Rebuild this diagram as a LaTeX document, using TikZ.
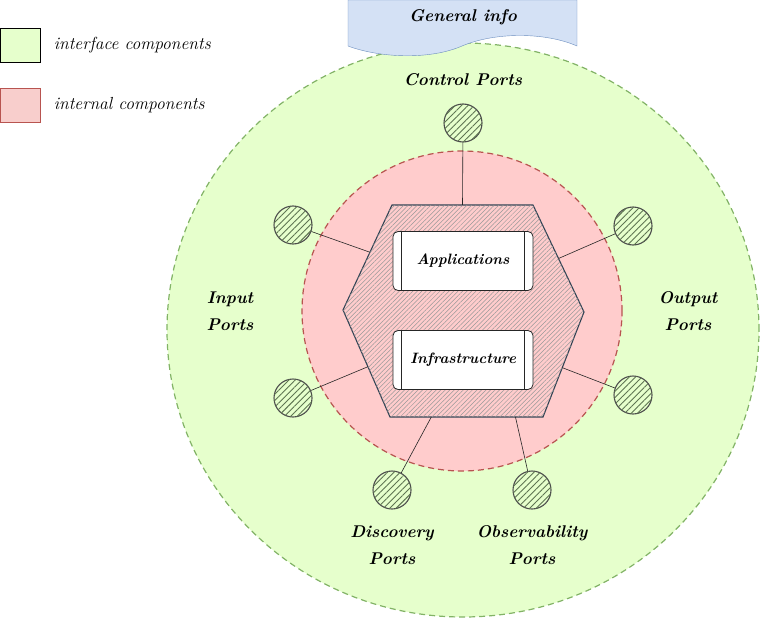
\documentclass[tikz,border=0pt]{standalone}
\usetikzlibrary{positioning}
\usetikzlibrary{patterns.meta}
\usetikzlibrary{calc}
\usepackage{xcolor}

\definecolor{ifacefill}{HTML}{E6FFCC}
\definecolor{ifaceline}{HTML}{82B366}
\definecolor{intfill}{HTML}{FFCCCC}
\definecolor{intline}{HTML}{B85450}
\definecolor{legint}{HTML}{F8CECC}
\definecolor{infofill}{HTML}{D4E1F5}
\definecolor{infoline}{HTML}{6C8EBF}
\definecolor{hexline}{HTML}{314354}
\definecolor{portline}{HTML}{5E7552}

\begin{document}
\begin{tikzpicture}[
        x=1pt, y=-1pt,
        lbl/.style={font=\fontsize{17}{21}\selectfont\bfseries\itshape, align=center, inner sep=1pt},
        port/.style={circle, draw=black!70, line width=1.1pt, minimum size=38pt, inner sep=0pt, fill=ifacefill,
            postaction={pattern={Lines[angle=45, distance=4.5pt, line width=0.9pt]}, pattern color=portline}},
        procbox/.style={rectangle, rounded corners=5pt, draw=black!85, thick, fill=white,
            minimum width=140pt, minimum height=59pt, font=\fontsize{15}{18}\selectfont\bfseries\itshape},
        legbox/.style={rectangle, minimum width=40pt, minimum height=34pt, inner sep=0pt},
        legtxt/.style={font=\fontsize{17.5}{20}\selectfont\itshape, inner sep=0pt},
        ring/.style={line width=1.2pt, dash pattern=on 6pt off 4pt},
        link/.style={draw=black!85, semithick}
    ]
        \useasboundingbox (0,0) rectangle (760,618);

        % rings
        \draw[ring, ifaceline, fill=ifacefill] (463,330) ellipse [x radius=296pt, y radius=287pt];
        \draw[ring, intline, fill=intfill] (462,311) circle [radius=160pt];

        % general info tab
        \draw[infoline, fill=infofill] (348,0) -- (577,0) -- (577,46)
            .. controls (545,32) and (495,32) .. (462,46)
            .. controls (430,60) and (380,58) .. (348,46) -- cycle;
        \node[lbl] (info) at (463,17) {General info};

        % legend
        \node[legbox, draw=black, fill=ifacefill] (legiface) at (20.5,45) {};
        \node[legtxt, right=13pt of legiface] {interface components};
        \node[legbox, draw=intline, fill=legint] (legintern) at (20.5,105) {};
        \node[legtxt, right=13pt of legintern] {internal components};

        % hexagon
        \coordinate (hexNW) at (392,205);
        \coordinate (hexNE) at (533,205);
        \coordinate (hexE) at (584,312);
        \coordinate (hexSE) at (543,417);
        \coordinate (hexSW) at (390,417);
        \coordinate (hexW) at (343,310);
        \draw[hexline, line width=1.1pt,
            postaction={pattern={Lines[angle=45, distance=3.2pt, line width=0.5pt]}, pattern color=black!40}]
            (hexNW) -- (hexNE) -- (hexE) -- (hexSE) -- (hexSW) -- (hexW) -- cycle;

        \coordinate (hexTop) at ($(hexNW)!0.5!(hexNE)$);
        \coordinate (hexIn1) at ($(hexW)!0.55!(hexNW)$);
        \coordinate (hexIn2) at ($(hexW)!0.53!(hexSW)$);
        \coordinate (hexOut1) at ($(hexE)!0.5!(hexNE)$);
        \coordinate (hexOut2) at ($(hexE)!0.53!(hexSE)$);
        \coordinate (hexDisc) at ($(hexSW)!0.27!(hexSE)$);
        \coordinate (hexObs) at ($(hexSW)!0.82!(hexSE)$);

        \node[procbox] (app) at (463,261) {Applications};
        \node[procbox] (infra) at (463,360) {Infrastructure};
        \foreach \b in {app, infra} {
            \draw[thick, black!85] ($(\b.north west)+(9,0)$) -- ($(\b.south west)+(9,0)$);
            \draw[thick, black!85] ($(\b.north east)+(-9,0)$) -- ($(\b.south east)+(-9,0)$);
        }

        % ports
        \node[port] (ctrlport) at (463,123) {};
        \node[port] (inport1) at (293,225) {};
        \node[port] (inport2) at (293,398) {};
        \node[port] (outport1) at (633,226) {};
        \node[port] (outport2) at (633,395) {};
        \node[port] (discport) at (392,490) {};
        \node[port] (obsport) at (532,490) {};

        \draw[link] (ctrlport) -- (hexTop);
        \draw[link] (inport1) -- (hexIn1);
        \draw[link] (inport2) -- (hexIn2);
        \draw[link] (outport1) -- (hexOut1);
        \draw[link] (outport2) -- (hexOut2);
        \draw[link] (discport) -- (hexDisc);
        \draw[link] (obsport) -- (hexObs);

        % port labels
        \node[lbl, above=16pt of ctrlport] (ctrllbl) {Control Ports};
        \node[lbl] (inlbl) at (230,311) {Input\\[6pt]Ports};
        \node[lbl] (outlbl) at (688,311) {Output\\[6pt]Ports};
        \node[lbl, below=15pt of discport] (disclbl) {Discovery\\[6pt]Ports};
        \node[lbl, below=15pt of obsport] (obslbl) {Observability\\[6pt]Ports};
    \end{tikzpicture}
\end{document}
